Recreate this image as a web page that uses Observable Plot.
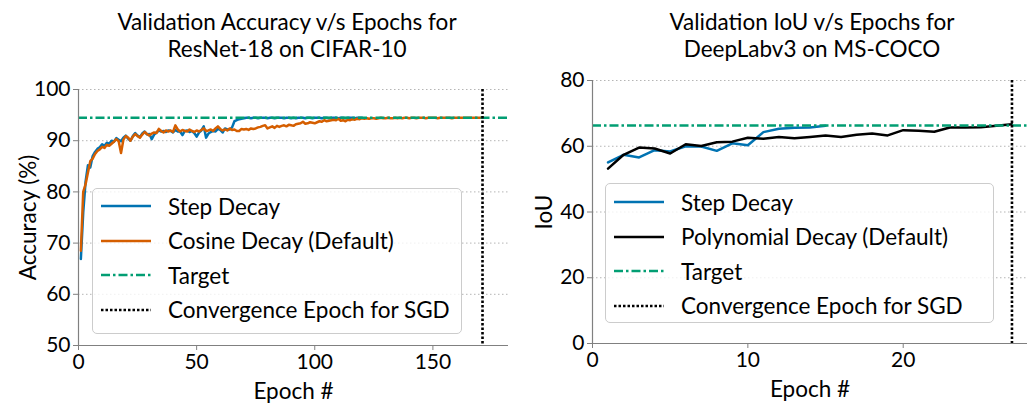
<!DOCTYPE html>
<html><head><meta charset="utf-8">
<script src="https://cdn.jsdelivr.net/npm/d3@7"></script>
<script src="https://cdn.jsdelivr.net/npm/@observablehq/plot@0.6"></script>
<style>
body{margin:0;background:#fff;font-family:Lato,sans-serif;}
#wrap{position:relative;width:1028px;height:403px;overflow:hidden;background:#fff;}
.chart{position:absolute;top:0;}
.title{position:absolute;text-align:center;font-size:22.5px;line-height:27px;color:#000;white-space:pre;}
.legend{position:absolute;background:rgba(255,255,255,0.8);border:1px solid #cccccc;border-radius:5px;box-sizing:border-box;}
.row{position:absolute;left:0;height:30px;display:flex;align-items:center;font-size:22.5px;white-space:nowrap;}
.row svg{margin-right:17px;}
</style>
</head><body>
<div id="wrap"></div>
<script>
// ---- Data: left chart (ResNet-18 / CIFAR-10) ----
const stepAcc = [66.9,76.0,82.0,85.2,84.8,87.0,87.8,88.4,88.7,89.3,
 89.0,89.6,89.4,90.0,89.8,90.5,90.2,89.9,90.6,91.0,
 90.4,90.0,90.9,91.5,91.0,90.7,91.4,91.8,91.2,91.3,
 90.3,91.2,91.6,92.0,91.8,91.9,91.7,92.0,91.9,91.6,
 92.1,91.8,91.8,91.1,91.9,92.0,91.7,91.9,91.5,90.8,
 91.6,92.0,92.8,90.6,91.4,91.7,91.9,91.8,92.3,92.1,
 91.6,92.4,92.2,92.2,92.6,93.8,94.0,94.2,94.3,94.4,
 94.5,94.5,94.4,94.5,94.5,94.4,94.5,94.5,94.5,94.4,
 94.5,94.5,94.4,94.5,94.5,94.5,94.4,94.5,94.5,94.4,
 94.5,94.4,94.5,94.5,94.5,94.4,94.5,94.5,94.4,94.5,
 94.5,94.5,94.4,94.5,94.5,94.4,94.5,94.5,94.5,94.4,
 94.5,94.5,94.4,94.5,94.5,94.5,94.4,94.5,94.5,94.5];
const cosineAcc = [68.5,80.0,81.5,83.8,86.0,86.5,87.4,88.0,88.3,88.8,
 88.6,89.2,89.0,89.4,89.8,90.3,89.9,87.6,90.2,90.9,
 90.6,90.0,90.8,91.3,90.9,90.6,91.2,91.7,91.3,91.0,
 91.4,91.6,91.5,92.3,91.9,91.6,92.0,91.8,92.0,91.7,
 93.0,92.2,91.8,92.1,91.9,91.8,92.2,91.9,91.7,92.0,
 91.8,92.1,92.4,91.9,92.0,92.2,91.9,92.4,92.8,92.3,
 92.0,92.2,92.0,92.4,92.1,92.2,91.9,91.9,92.3,92.2,
 92.3,92.1,92.4,92.3,92.4,92.6,92.7,92.9,93.0,92.4,
 92.6,92.8,92.5,92.9,92.7,92.9,93.0,92.8,93.1,93.0,
 92.9,93.2,93.3,93.4,93.7,93.3,93.4,93.6,93.5,93.4,
 93.6,93.8,93.7,94.0,93.8,93.9,94.0,94.1,94.0,94.3,
 93.9,94.0,93.8,94.1,94.0,94.2,94.1,94.3,94.2,94.4,
 94.3,94.4,94.3,94.4,94.4,94.3,94.4,94.5,94.4,94.4,
 94.5,94.4,94.4,94.5,94.4,94.5,94.4,94.5,94.5,94.4,
 94.5,94.5,94.4,94.5,94.5,94.5,94.4,94.5,94.5,94.5,
 94.5,94.4,94.5,94.5,94.5,94.5,94.5,94.4,94.5,94.5,
 94.5,94.5,94.5,94.5,94.5,94.5,94.5,94.5,94.5,94.5,94.5];
const targetAcc = 94.5;
const convergenceAcc = 171;
const accXTicks = [0,50,100,150];
const accYTicks = [50,60,70,80,90,100];

// ---- Data: right chart (DeepLabv3 / MS-COCO) ----
const stepIoU = [55.1,57.4,56.6,58.8,58.4,60.0,59.9,58.6,60.9,60.3,64.3,65.3,65.6,65.7,66.2];
const polyIoU = [53.2,57.4,59.6,59.3,57.8,60.6,60.1,61.2,61.4,62.6,62.3,62.8,62.4,62.8,63.3,62.8,63.5,63.9,63.3,64.9,64.7,64.4,65.7,65.7,65.8,66.2,66.7];
const targetIoU = 66.3;
const convergenceIoU = 27;
const iouXTicks = [0,10,20];
const iouYTicks = [0,20,40,60,80];

const C = {step:"#0173B2", cosine:"#D55E00", poly:"#000000", target:"#029E73", conv:"#000000"};
const FONT = "Lato, sans-serif";
const DASHDOT = "9,3,2.5,3", DOTTED = "2.5,2";
const asRows = arr => arr.map((v,i)=>({epoch:i+1, value:v}));

function chart(o){
  return Plot.plot({
    width:o.width, height:403,
    marginLeft:o.ml, marginRight:o.mr, marginTop:o.mt, marginBottom:o.mb,
    style:{fontFamily:FONT, fontSize:"21px", color:"#000", background:"transparent", overflow:"visible"},
    x:{domain:o.xDomain}, y:{domain:o.yDomain},
    marks:[
      Plot.gridY(o.yTicks, {stroke:"#b5b5b5", strokeOpacity:1, strokeWidth:1, strokeDasharray:"1.5,2.5"}),
      ...o.series.map(s => Plot.lineY(asRows(s.data), {x:"epoch", y:"value", stroke:s.color, strokeWidth:2.5})),
      Plot.ruleY([o.target], {stroke:C.target, strokeWidth:2.5, strokeDasharray:DASHDOT}),
      Plot.ruleX([o.conv], {stroke:C.conv, strokeWidth:2.6, strokeDasharray:DOTTED}),
      Plot.ruleX([o.xDomain[0]], {stroke:"#808080", strokeWidth:1.2}),
      Plot.ruleY([o.yDomain[0]], {stroke:"#808080", strokeWidth:1.2}),
      Plot.axisX(o.xTicks, {tickSize:5, tickPadding:4, stroke:"#808080", label:null}),
      Plot.axisY(o.yTicks, {tickSize:5, tickPadding:3, stroke:"#808080", label:null}),
      Plot.text([o.xLabel], {frameAnchor:"bottom", dy:38, lineAnchor:"top", fontSize:22.5}),
      Plot.text([o.yLabel], {frameAnchor:"left", dx:o.yLabelDx, rotate:-90, lineAnchor:"middle", textAnchor:"middle", fontSize:22.5})
    ]
  });
}

const wrap = document.getElementById("wrap");
function place(el, left){ el.classList.add("chart"); el.style.left = left+"px"; wrap.appendChild(el); }

place(chart({width:520, ml:78, mr:12, mt:89, mb:58, xDomain:[0,182], yDomain:[50,100],
  xTicks:accXTicks, yTicks:accYTicks, target:targetAcc, conv:convergenceAcc,
  series:[{data:stepAcc,color:C.step},{data:cosineAcc,color:C.cosine}],
  xLabel:"Epoch #", yLabel:"Accuracy (%)", yLabelDx:-50}), 0);

place(chart({width:508, ml:72, mr:1, mt:80, mb:60, xDomain:[0,28], yDomain:[0,80],
  xTicks:iouXTicks, yTicks:iouYTicks, target:targetIoU, conv:convergenceIoU,
  series:[{data:stepIoU,color:C.step},{data:polyIoU,color:C.poly}],
  xLabel:"Epoch #", yLabel:"IoU", yLabelDx:-48}), 520);

function title(lines, left, width){
  const d = document.createElement("div"); d.className="title";
  d.style.left=left+"px"; d.style.width=width+"px"; d.style.top="8px";
  d.textContent = lines.join("\n"); wrap.appendChild(d);
}
title(["Validation Accuracy v/s Epochs for","ResNet-18 on CIFAR-10"], 0, 574);
title(["Validation IoU v/s Epochs for","DeepLabv3 on MS-COCO"], 612, 400);

function swatch(color, dash){
  return `<svg width="50" height="6"><line x1="0" x2="50" y1="3" y2="3" stroke="${color}" stroke-width="2.5" ${dash?`stroke-dasharray="${dash}"`:""}/></svg>`;
}
function legend(items, box){
  const d = document.createElement("div"); d.className="legend";
  Object.assign(d.style, {left:box.x+"px", top:box.y+"px", width:box.w+"px", height:box.h+"px"});
  items.forEach((it,i)=>{
    const r = document.createElement("div"); r.className="row";
    r.style.left = box.padL+"px"; r.style.top = (box.row0 + i*box.rowH - 15)+"px";
    r.innerHTML = swatch(it.color, it.dash) + `<span>${it.label}</span>`;
    d.appendChild(r);
  });
  wrap.appendChild(d);
}
legend([
  {label:"Step Decay", color:C.step},
  {label:"Cosine Decay (Default)", color:C.cosine},
  {label:"Target", color:C.target, dash:DASHDOT},
  {label:"Convergence Epoch for SGD", color:C.conv, dash:DOTTED}
], {x:92, y:188, w:370, h:146, padL:8, row0:17, rowH:34.5});
legend([
  {label:"Step Decay", color:C.step},
  {label:"Polynomial Decay (Default)", color:C.poly},
  {label:"Target", color:C.target, dash:DASHDOT},
  {label:"Convergence Epoch for SGD", color:C.conv, dash:DOTTED}
], {x:605, y:183, w:389, h:140, padL:8, row0:18, rowH:34.5});
</script>
</body></html>
